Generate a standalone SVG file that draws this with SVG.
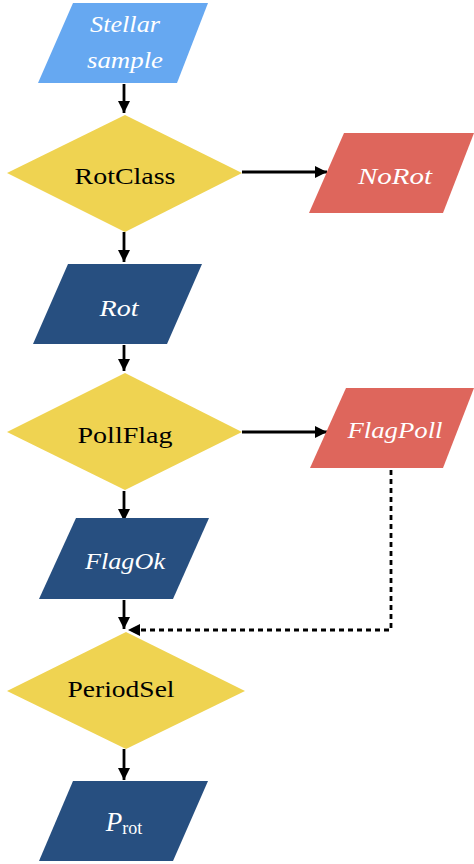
<svg xmlns="http://www.w3.org/2000/svg" width="474" height="864" viewBox="0 0 474 864">
<style>
.lb{fill:#66a8f1}
.dk{fill:#274f80}
.rd{fill:#de665c}
.yl{fill:#efd351}
.t{font-family:"Liberation Serif","DejaVu Serif",serif;font-size:24px;text-anchor:middle}
.w{fill:#ffffff;font-style:italic}
.b{fill:#000000}
.e{stroke:#000;stroke-width:2.8;fill:none}
.d{stroke-dasharray:5,4}
</style>
<defs>
<marker id="ah" markerUnits="userSpaceOnUse" markerWidth="14" markerHeight="14" refX="12" refY="6" orient="auto">
<path d="M0,0 L12,6 L0,12 Z" fill="#000"/>
</marker>
</defs>
<g id="connectors">
<path class="e" d="M124,84 L124,113" marker-end="url(#ah)"/>
<path class="e" d="M242,172 L327,172" marker-end="url(#ah)"/>
<path class="e" d="M124,232 L124,262" marker-end="url(#ah)"/>
<path class="e" d="M124,345 L124,371" marker-end="url(#ah)"/>
<path class="e" d="M242,432 L327,432" marker-end="url(#ah)"/>
<path class="e" d="M124,491 L124,521" marker-end="url(#ah)"/>
<path class="e" d="M124,600 L124,629" marker-end="url(#ah)"/>
<path class="e d" d="M391,470 L391,630 L128,630" marker-end="url(#ah)"/>
<path class="e" d="M124,749 L124,780" marker-end="url(#ah)"/>
</g>
<g id="stellar">
<polygon class="lb" points="73,3 208,3 177,83 38,83"/>
<text class="t w" x="125" y="32" textLength="70" lengthAdjust="spacingAndGlyphs">Stellar</text>
<text class="t w" x="125" y="68" textLength="76" lengthAdjust="spacingAndGlyphs">sample</text>
</g>
<g id="rotclass">
<polygon class="yl" points="125,115 242,173 125,232 7,173"/>
<text class="t b" x="125" y="184" textLength="101" lengthAdjust="spacingAndGlyphs">RotClass</text>
</g>
<g id="norot">
<polygon class="rd" points="344,133 474,133 443,213 309,213"/>
<text class="t w" x="395" y="184" textLength="74" lengthAdjust="spacingAndGlyphs">NoRot</text>
</g>
<g id="rot">
<polygon class="dk" points="68,264 202,264 167,344 33,344"/>
<text class="t w" x="119" y="316" textLength="39" lengthAdjust="spacingAndGlyphs">Rot</text>
</g>
<g id="pollflag">
<polygon class="yl" points="125,373 242,432 125,490 7,432"/>
<text class="t b" x="125" y="443" textLength="95" lengthAdjust="spacingAndGlyphs">PollFlag</text>
</g>
<g id="flagpoll">
<polygon class="rd" points="346,388 474,388 443,468 310,468"/>
<text class="t w" x="395" y="438" textLength="95" lengthAdjust="spacingAndGlyphs">FlagPoll</text>
</g>
<g id="flagok">
<polygon class="dk" points="76,518 209,518 173,599 39,599"/>
<text class="t w" x="125" y="569" textLength="80" lengthAdjust="spacingAndGlyphs">FlagOk</text>
</g>
<g id="periodsel">
<polygon class="yl" points="126,632 245,691 126,749 7,691"/>
<text class="t b" x="121" y="697" textLength="107" lengthAdjust="spacingAndGlyphs">PeriodSel</text>
</g>
<g id="prot">
<polygon class="dk" points="73,781 208,781 173,861 39,861"/>
<text class="t" x="124" y="831" fill="#fff"><tspan font-style="italic" font-size="27">P</tspan><tspan font-size="18" dy="3">rot</tspan></text>
</g>
</svg>
